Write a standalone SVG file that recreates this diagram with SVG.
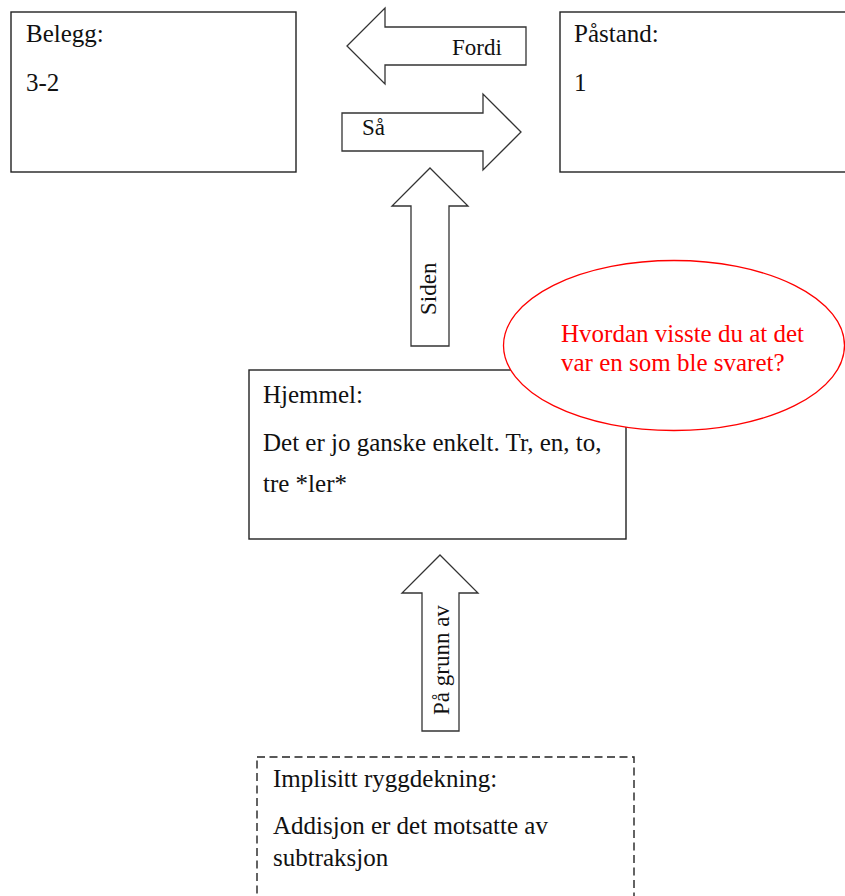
<svg xmlns="http://www.w3.org/2000/svg" width="845" height="896" viewBox="0 0 845 896">
  <style>
    .box { fill: #ffffff; stroke: #222222; stroke-width: 1.4; }
    .dashed { stroke-dasharray: 8 4.5; }
    .arrow { fill: #ffffff; stroke: #333333; stroke-width: 1.3; stroke-linejoin: miter; }
    .txt { font-family: 'Liberation Serif', 'DejaVu Serif', serif; font-size: 25px; fill: #111111; }
    .lbl { font-family: 'Liberation Serif', 'DejaVu Serif', serif; font-size: 23px; fill: #111111; }
    .note { fill: #ffffff; stroke: #ff0000; stroke-width: 1.3; }
    .notetxt { font-family: 'Liberation Serif', 'DejaVu Serif', serif; font-size: 25px; fill: #ff0000; }
  </style>
  <rect width="845" height="896" fill="#ffffff"/>

  <!-- Belegg -->
  <g id="belegg">
    <rect class="box" x="11" y="12" width="285" height="160"/>
    <text class="txt" x="26" y="42">Belegg:</text>
    <text class="txt" x="26" y="91">3-2</text>
  </g>

  <!-- Påstand -->
  <g id="pastand">
    <rect class="box" x="560" y="12" width="300" height="160"/>
    <text class="txt" x="574" y="42">Påstand:</text>
    <text class="txt" x="574" y="91">1</text>
  </g>

  <!-- Hjemmel -->
  <g id="hjemmel">
    <rect class="box" x="249" y="370" width="377" height="169"/>
    <text class="txt" x="263" y="403">Hjemmel:</text>
    <text class="txt" x="263" y="451">Det er jo ganske enkelt. Tr, en, to,</text>
    <text class="txt" x="263" y="492">tre *ler*</text>
  </g>

  <!-- Comment bubble -->
  <g id="kommentar">
    <ellipse class="note" cx="674" cy="345.5" rx="170.5" ry="85"/>
    <text class="notetxt" x="561" y="342">Hvordan visste du at det</text>
    <text class="notetxt" x="561" y="371">var en som ble svaret?</text>
  </g>

  <!-- Implisitt ryggdekning -->
  <g id="ryggdekning">
    <rect class="box dashed" x="257" y="757" width="377" height="160"/>
    <text class="txt" x="273" y="787">Implisitt ryggdekning:</text>
    <text class="txt" x="273" y="834">Addisjon er det motsatte av</text>
    <text class="txt" x="273" y="866">subtraksjon</text>
  </g>

  <!-- Block arrows between the nodes -->
  <g id="connectors">
    <g id="fordi">
      <polygon class="arrow" points="347,46 385,8 385,27 526,27 526,65 385,65 385,84"/>
      <text class="lbl" x="452" y="55">Fordi</text>
    </g>
    <g id="saa">
      <polygon class="arrow" points="342,113 483,113 483,94 521,132 483,170 483,151 342,151"/>
      <text class="lbl" x="362" y="135">Så</text>
    </g>
    <g id="siden">
      <polygon class="arrow" points="430,168 468,206 449,206 449,346 411,346 411,206 392,206"/>
      <text class="lbl" transform="translate(436,315) rotate(-90)">Siden</text>
    </g>
    <g id="paa-grunn-av">
      <polygon class="arrow" points="440,555 478,593 459,593 459,731 422,731 422,593 402,593"/>
      <text class="lbl" transform="translate(449,715) rotate(-90)">På grunn av</text>
    </g>
  </g>
</svg>
